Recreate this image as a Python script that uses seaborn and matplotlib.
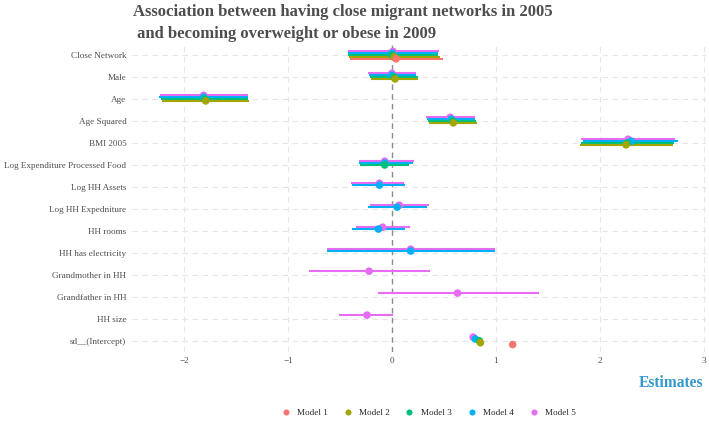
import numpy as np
import pandas as pd
import matplotlib
matplotlib.use("Agg")
import matplotlib.pyplot as plt
import seaborn as sns

# Coefficients (estimate, lower, upper)
terms = ['Close Network', 'Male', 'Age', 'Age Squared', 'BMI 2005',
         'Log Expenditure Processed Food', 'Log HH Assets', 'Log HH Expedniture',
         'HH rooms', 'HH has electricity', 'Grandmother in HH',
         'Grandfather in HH', 'HH size', 'sd__(Intercept)']
models = ['Model 1', 'Model 2', 'Model 3', 'Model 4', 'Model 5']

m1_terms = ['Close Network', 'sd__(Intercept)']
m1_est = [0.04, 1.16]
m1_lo = [-0.40, np.nan]
m1_hi = [0.49, np.nan]

m2_terms = ['Close Network', 'Male', 'Age', 'Age Squared', 'BMI 2005', 'sd__(Intercept)']
m2_est = [0.02, 0.03, -1.79, 0.59, 2.25, 0.85]
m2_lo = [-0.41, -0.20, -2.21, 0.36, 1.81, np.nan]
m2_hi = [0.46, 0.25, -1.37, 0.82, 2.70, np.nan]

m3_terms = ['Close Network', 'Male', 'Age', 'Age Squared', 'BMI 2005',
            'Log Expenditure Processed Food', 'sd__(Intercept)']
m3_est = [0.00, 0.02, -1.80, 0.58, 2.26, -0.07, 0.84]
m3_lo = [-0.42, -0.21, -2.22, 0.35, 1.82, -0.31, np.nan]
m3_hi = [0.44, 0.25, -1.38, 0.81, 2.71, 0.16, np.nan]

m4_terms = ['Close Network', 'Male', 'Age', 'Age Squared', 'BMI 2005',
            'Log Expenditure Processed Food', 'Log HH Assets', 'Log HH Expedniture',
            'HH rooms', 'HH has electricity', 'sd__(Intercept)']
m4_est = [0.00, 0.00, -1.81, 0.57, 2.30, -0.07, -0.12, 0.05, -0.13, 0.18, 0.80]
m4_lo = [-0.42, -0.22, -2.24, 0.34, 1.84, -0.32, -0.38, -0.23, -0.38, -0.62, np.nan]
m4_hi = [0.44, 0.23, -1.38, 0.80, 2.75, 0.20, 0.13, 0.34, 0.13, 0.99, np.nan]

m5_terms = ['Close Network', 'Male', 'Age', 'Age Squared', 'BMI 2005',
            'Log Expenditure Processed Food', 'Log HH Assets', 'Log HH Expedniture',
            'HH rooms', 'HH has electricity', 'Grandmother in HH', 'Grandfather in HH',
            'HH size', 'sd__(Intercept)']
m5_est = [0.01, 0.00, -1.81, 0.56, 2.27, -0.07, -0.12, 0.07, -0.09, 0.18, -0.22, 0.63, -0.24, 0.78]
m5_lo = [-0.42, -0.23, -2.23, 0.33, 1.82, -0.32, -0.39, -0.21, -0.35, -0.62, -0.80, -0.13, -0.51, np.nan]
m5_hi = [0.45, 0.23, -1.38, 0.80, 2.72, 0.21, 0.12, 0.36, 0.17, 0.99, 0.37, 1.41, 0.01, np.nan]

palette = ['#F8766D', '#A3A500', '#00BF7D', '#00B0F6', '#E76BF3']

frames = []
for name, t, e, lo, hi in [
        ('Model 1', m1_terms, m1_est, m1_lo, m1_hi),
        ('Model 2', m2_terms, m2_est, m2_lo, m2_hi),
        ('Model 3', m3_terms, m3_est, m3_lo, m3_hi),
        ('Model 4', m4_terms, m4_est, m4_lo, m4_hi),
        ('Model 5', m5_terms, m5_est, m5_lo, m5_hi)]:
    frames.append(pd.DataFrame({'term': t, 'estimate': e, 'low': lo, 'high': hi, 'model': name}))
df = pd.concat(frames, ignore_index=True)

# dodge models vertically inside each row
df['row'] = df['term'].map({t: i for i, t in enumerate(terms)})
df['midx'] = df['model'].map({m: i for i, m in enumerate(models)})
df['ypos'] = df['row'] - (df['midx'] - 2) * 0.085
# later models drawn first, model 1 on top
df = df.sort_values('midx', ascending=False, kind='stable')

sns.set_theme(style='white')
plt.rcParams['font.family'] = ['Liberation Serif', 'DejaVu Serif']

fig = plt.figure(figsize=(7.09, 4.28), dpi=100)
ax = fig.add_axes([0.186, 0.178, 0.810, 0.719])

# grid
for r in range(len(terms)):
    ax.axhline(r, color='#e6e6e6', lw=0.8, ls=(0, (5, 4)), zorder=0)
for xv in [-2, -1, 1, 2, 3]:
    ax.axvline(xv, color='#e6e6e6', lw=0.8, ls=(0, (5, 4)), zorder=0)
ax.axvline(0, color='#8c8c8c', lw=1.0, ls=(0, (4, 3)), zorder=1)

# confidence intervals
for i in reversed(range(len(models))):
    sub = df[(df['model'] == models[i]) & df['low'].notna()]
    ax.hlines(sub['ypos'], sub['low'], sub['high'], color=palette[i], lw=1.5, zorder=2)

sns.scatterplot(data=df, x='estimate', y='ypos', hue='model', hue_order=models,
                palette=palette, s=30, edgecolor='none', ax=ax, zorder=3, legend=True)

ax.set_xlim(-2.5, 3.02)
ax.set_ylim(len(terms) - 0.5, -0.5)
ax.set_yticks(range(len(terms)))
ax.set_yticklabels(terms)
ax.set_xticks([-2, -1, 0, 1, 2, 3])
ax.set_xticklabels(['\u22122', '\u22121', '0', '1', '2', '3'])
ax.tick_params(axis='both', length=0, labelsize=6.6, colors='#4d4d4d', pad=4)
for s in ax.spines.values():
    s.set_visible(False)
ax.set_ylabel('')
ax.set_xlabel('')

fig.text(0.992, 0.086, 'Estimates', ha='right', va='bottom', fontsize=11.2,
         fontweight='bold', color='#3399CC')
fig.text(0.187, 0.99, 'Association between having close migrant networks in 2005\n and becoming overweight or obese in 2009',
         ha='left', va='top', fontsize=12, fontweight='bold', color='#4d4d4d', linespacing=1.45)

handles, labels = ax.get_legend_handles_labels()
ax.get_legend().remove()
fig.legend(handles, labels, loc='lower center', bbox_to_anchor=(0.601, 0.006), ncol=5,
           frameon=False, fontsize=6.6, handletextpad=0.25, columnspacing=1.15, markerscale=0.8)

fig.savefig('out.png', dpi=100)
